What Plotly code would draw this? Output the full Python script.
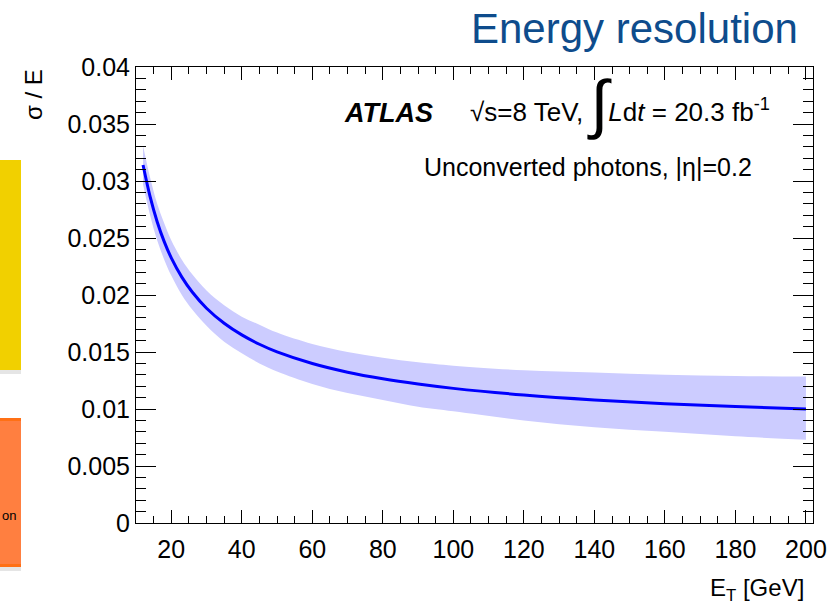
import plotly.graph_objects as go

# Photon energy resolution vs transverse energy (unconverted photons, |eta| = 0.2)
et_gev = [12, 14, 16, 18, 20, 23, 26, 30, 35, 40, 45, 50, 60, 70, 80, 90,
          100, 120, 140, 160, 180, 200]
resolution = [0.0314, 0.02863, 0.02643, 0.02468, 0.02326, 0.02157, 0.02024,
              0.01884, 0.01752, 0.01650, 0.01568, 0.01501, 0.01399, 0.01323,
              0.01265, 0.01219, 0.01181, 0.01123, 0.01080, 0.01047, 0.01021,
              0.01000]
band_up = [0.0331, 0.0303, 0.0280, 0.0263, 0.0248, 0.0231, 0.0218, 0.0204,
           0.0191, 0.0181, 0.0174, 0.0167, 0.0157, 0.0150, 0.0145, 0.0141,
           0.0138, 0.0134, 0.0132, 0.0130, 0.0129, 0.01284]
band_down = [0.0297, 0.0270, 0.0248, 0.0231, 0.0217, 0.0200, 0.0187, 0.0173,
             0.0159, 0.0149, 0.0140, 0.0133, 0.0122, 0.0114, 0.0108, 0.0102,
             0.0098, 0.0090, 0.0084, 0.0080, 0.0076, 0.0073]

x_ticks = [20, 40, 60, 80, 100, 120, 140, 160, 180, 200]
y_ticks = [0, 0.005, 0.01, 0.015, 0.02, 0.025, 0.03, 0.035, 0.04]
y_tick_text = ["0", "0.005", "0.01", "0.015", "0.02", "0.025", "0.03", "0.035", "0.04"]

W, H = 838, 605
ML, MR, MT, MB = 136, 25, 67, 82
PW, PH = W - ML - MR, H - MT - MB
FONT = "Liberation Sans, Arial, sans-serif"


def px(x):
    return (x - ML) / PW


def py(y):
    return (H - MB - y) / PH


fig = go.Figure()

fig.add_trace(go.Scatter(x=et_gev, y=band_down, mode="lines",
                         line=dict(width=0, shape="spline"), hoverinfo="skip",
                         showlegend=False))
fig.add_trace(go.Scatter(x=et_gev, y=band_up, mode="lines",
                         line=dict(width=0, shape="spline"), fill="tonexty",
                         fillcolor="#ccccff", hoverinfo="skip", showlegend=False))
fig.add_trace(go.Scatter(x=et_gev, y=resolution, mode="lines",
                         line=dict(color="#0000ff", width=3, shape="spline"),
                         showlegend=False))

axis_common = dict(
    showline=True, linecolor="black", linewidth=1, mirror="ticks",
    ticks="inside", tickcolor="black", tickwidth=1,
    showgrid=False, zeroline=False,
    tickfont=dict(family=FONT, size=25, color="black"),
)

fig.update_xaxes(range=[10, 202], tickvals=x_ticks, ticklen=13,
                 ticklabelstandoff=4,
                 minor=dict(dtick=5, tick0=0, ticks="inside", ticklen=7,
                            tickcolor="black", tickwidth=1, showgrid=False),
                 **axis_common)
fig.update_yaxes(range=[0, 0.04], tickvals=y_ticks, ticktext=y_tick_text,
                 ticklen=20,
                 minor=dict(dtick=0.001, tick0=0, ticks="inside", ticklen=10,
                            tickcolor="black", tickwidth=1, showgrid=False),
                 **axis_common)

# neighbouring slide boxes at the left edge
shapes = [
    dict(type="rect", xref="paper", yref="paper", x0=px(-5), x1=px(21),
         y0=py(374), y1=py(369), fillcolor="rgba(0,0,0,0.10)", line_width=0),
    dict(type="rect", xref="paper", yref="paper", x0=px(-5), x1=px(21),
         y0=py(370), y1=py(160), fillcolor="#f1d000", line_width=0),
    dict(type="rect", xref="paper", yref="paper", x0=px(-5), x1=px(21),
         y0=py(571), y1=py(566), fillcolor="rgba(0,0,0,0.10)", line_width=0),
    dict(type="rect", xref="paper", yref="paper", x0=px(-5), x1=px(21),
         y0=py(567), y1=py(418), fillcolor="#ff7f40", line_width=0),
    dict(type="rect", xref="paper", yref="paper", x0=px(-5), x1=px(21),
         y0=py(421), y1=py(418), fillcolor="#ff7015", line_width=0),
    dict(type="rect", xref="paper", yref="paper", x0=px(-5), x1=px(21),
         y0=py(567), y1=py(564), fillcolor="#ff7015", line_width=0),
]

lumi_text = ("√s=8 TeV, <sub><span style=\"font-size:65px\">∫</span></sub>"
             "<i>L</i>d<i>t</i> = 20.3 fb<sup>-1</sup>")

annotations = [
    dict(text="Energy resolution", x=px(800), y=py(28), xanchor="right",
         yanchor="middle", font=dict(family=FONT, size=42, color="#0e4c8c")),
    dict(text="σ / E", x=px(33), y=py(94), xanchor="center", yanchor="middle",
         textangle=-90, font=dict(family=FONT, size=24, color="black")),
    dict(text="E<sub>T</sub> [GeV]", x=px(806), y=py(589), xanchor="right",
         yanchor="middle", font=dict(family=FONT, size=24, color="black")),
    dict(text="<b><i>ATLAS</i></b>", x=px(342), y=py(113), xanchor="left",
         yanchor="middle", font=dict(family=FONT, size=27, color="black")),
    dict(text=lumi_text, x=px(468), y=py(142), xanchor="left",
         yanchor="bottom", font=dict(family=FONT, size=26, color="black")),
    dict(text="Unconverted photons, |η|=0.2", x=px(754), y=py(167),
         xanchor="right", yanchor="middle",
         font=dict(family=FONT, size=25, color="black")),
    dict(text="on", x=px(0), y=py(515), xanchor="left", yanchor="middle",
         font=dict(family=FONT, size=13, color="black")),
]
for a in annotations:
    a.update(xref="paper", yref="paper", showarrow=False)

fig.update_layout(
    width=W, height=H,
    margin=dict(l=ML, r=MR, t=MT, b=MB),
    paper_bgcolor="white", plot_bgcolor="white",
    shapes=shapes, annotations=annotations,
    font=dict(family=FONT, color="black"),
)

fig.write_html("out.html")
